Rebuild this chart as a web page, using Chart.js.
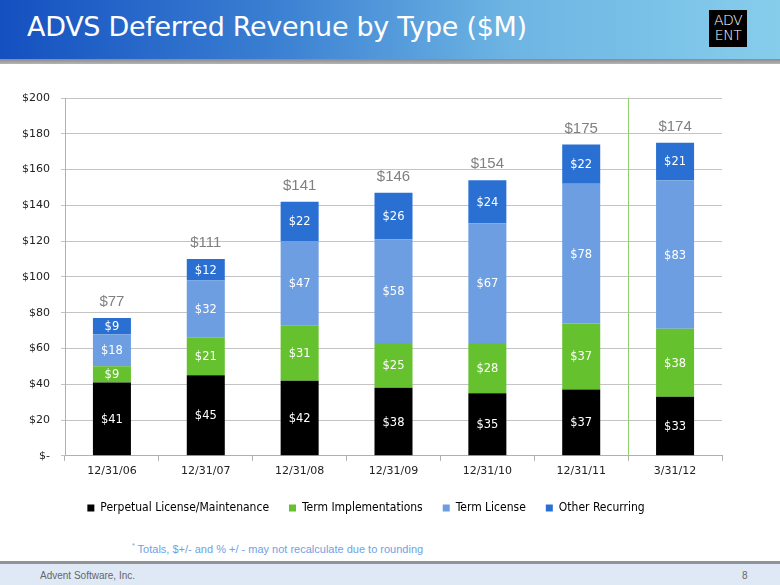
<!DOCTYPE html>
<html>
<head>
<meta charset="utf-8">
<script src="https://cdn.jsdelivr.net/npm/chart.js@4/dist/chart.umd.min.js"></script>
<style>
  html, body { margin: 0; padding: 0; width: 780px; height: 585px; overflow: hidden; background: #ffffff; position: relative; }
  #header { position: absolute; left: 0; top: 0; width: 780px; height: 59px;
    background: linear-gradient(90deg, #1450c0 0%, #3a7fd2 35%, #6db4e3 65%, #86cdec 100%); }
  #headerBand { position: absolute; left: 0; top: 59px; width: 780px; height: 5px;
    background: linear-gradient(180deg, #8a8a8a, #b5b5b5); }
  #title { position: absolute; left: 27px; top: 11px; color: #fff; font-family: "DejaVu Sans", sans-serif; font-size: 27px; white-space: nowrap; letter-spacing: -0.3px; }
  #logo { position: absolute; left: 709px; top: 10px; width: 38px; height: 37px; background: #000; color: #fff;
    font-family: "DejaVu Sans", sans-serif; font-size: 14px; line-height: 15px; text-align: center; padding-top: 3px; box-sizing: border-box; font-weight: 200; letter-spacing: -0.5px; }
  #chartWrap { position: absolute; left: 0; top: 64px; width: 780px; height: 470px; }
  #footnote { position: absolute; left: 132px; top: 542px; color: #6ea2e6; font-family: "Liberation Sans", Arial, sans-serif; font-size: 11px; white-space: nowrap; }
  #footer { position: absolute; left: 0; top: 561px; width: 780px; height: 24px; background: #dfe9f6; border-top: 3px solid #8f9398; }
  #footLeft { position: absolute; left: 40px; top: 6px; color: #666; font-family: "Liberation Sans", Arial, sans-serif; font-size: 10px; }
  #footRight { position: absolute; left: 742px; top: 6px; color: #666; font-family: "Liberation Sans", Arial, sans-serif; font-size: 10px; }
</style>
</head>
<body>
<div id="header"></div>
<div id="headerBand"></div>
<div id="title">ADVS Deferred Revenue by Type ($M)</div>
<div id="logo">ADV<br>ENT</div>
<div id="chartWrap"><canvas id="chart" width="780" height="470"></canvas></div>
<div id="footnote"><sup style="font-size:7px">*</sup> Totals, $+/- and % +/ - may not recalculate due to rounding</div>
<div id="footer"><div id="footLeft">Advent Software, Inc.</div><div id="footRight">8</div></div>
<script>
const categories = ["12/31/06", "12/31/07", "12/31/08", "12/31/09", "12/31/10", "12/31/11", "3/31/12"];
const perpetual = [41, 45, 42, 38, 35, 37, 33];
const termImpl = [9, 21, 31, 25, 28, 37, 38];
const termLicense = [18, 32, 47, 58, 67, 78, 83];
const otherRecurring = [9, 12, 22, 26, 24, 22, 21];
const totals = [77, 111, 141, 146, 154, 175, 174];
const yTicks = [0, 20, 40, 60, 80, 100, 120, 140, 160, 180, 200];

const segLabelPlugin = {
  id: 'segLabels',
  afterDatasetsDraw(chart) {
    const ctx = chart.ctx;
    ctx.save();
    ctx.fillStyle = '#ffffff';
    ctx.font = '11.5px "DejaVu Sans", sans-serif';
    ctx.textAlign = 'center';
    ctx.textBaseline = 'middle';
    chart.data.datasets.forEach((ds, di) => {
      const meta = chart.getDatasetMeta(di);
      meta.data.forEach((el, i) => {
        const y = (el.y + el.base) / 2;
        ctx.fillText('$' + ds.data[i], el.x, y + 1);
      });
    });
    const topMeta = chart.getDatasetMeta(chart.data.datasets.length - 1);
    ctx.fillStyle = '#808080';
    ctx.font = '15px "Liberation Sans", Arial, sans-serif';
    ctx.textBaseline = 'alphabetic';
    topMeta.data.forEach((el, i) => {
      ctx.fillText('$' + totals[i], el.x, el.y - 12);
    });
    ctx.restore();
  }
};

const dividerPlugin = {
  id: 'divider',
  beforeDatasetsDraw(chart) {
    const xs = chart.scales.x, ys = chart.scales.y;
    const x = Math.round((xs.getPixelForValue(5) + xs.getPixelForValue(6)) / 2) + 0.5;
    const ctx = chart.ctx;
    ctx.save();
    ctx.strokeStyle = '#8fd16b';
    ctx.lineWidth = 1;
    ctx.beginPath();
    ctx.moveTo(x, ys.top);
    ctx.lineTo(x, ys.bottom);
    ctx.stroke();
    ctx.restore();
  }
};

const common = { barPercentage: 0.81, categoryPercentage: 0.5, borderWidth: 0 };
new Chart(document.getElementById('chart'), {
  type: 'bar',
  data: {
    labels: categories,
    datasets: [
      Object.assign({ label: 'Perpetual License/Maintenance', data: perpetual, backgroundColor: '#000000' }, common),
      Object.assign({ label: 'Term Implementations', data: termImpl, backgroundColor: '#66c12e' }, common),
      Object.assign({ label: 'Term License', data: termLicense, backgroundColor: '#6c9ee1' }, common),
      Object.assign({ label: 'Other Recurring', data: otherRecurring, backgroundColor: '#2a70d3' }, common)
    ]
  },
  options: {
    responsive: false,
    animation: false,
    devicePixelRatio: 1,
    layout: { padding: { left: 10, right: 58, top: 34, bottom: 10 } },
    plugins: {
      legend: {
        position: 'bottom',
        labels: {
          boxWidth: 7, boxHeight: 7, padding: 20,
          color: '#000', font: { family: '"DejaVu Sans Condensed", "DejaVu Sans", sans-serif', size: 12 }
        }
      },
      tooltip: { enabled: false }
    },
    scales: {
      x: {
        stacked: true,
        grid: { drawOnChartArea: false, drawTicks: true, tickLength: 5, color: '#b0b0b0', offset: true },
        border: { color: '#b0b0b0' },
        ticks: { color: '#222', font: { family: '"DejaVu Sans", sans-serif', size: 11 }, padding: 4 }
      },
      y: {
        stacked: true,
        min: 0, max: 200,
        afterFit(scale) { scale.width = 55; },
        afterBuildTicks(scale) { scale.ticks = yTicks.map(v => ({ value: v })); },
        grid: { color: '#c4c4c4', tickLength: 4, lineWidth: 1 },
        border: { color: '#b0b0b0' },
        ticks: {
          color: '#222', font: { family: '"DejaVu Sans", sans-serif', size: 11 }, padding: 11,
          callback: v => v === 0 ? '$-' : '$' + v
        }
      }
    }
  },
  plugins: [dividerPlugin, segLabelPlugin]
});
</script>
</body>
</html>
